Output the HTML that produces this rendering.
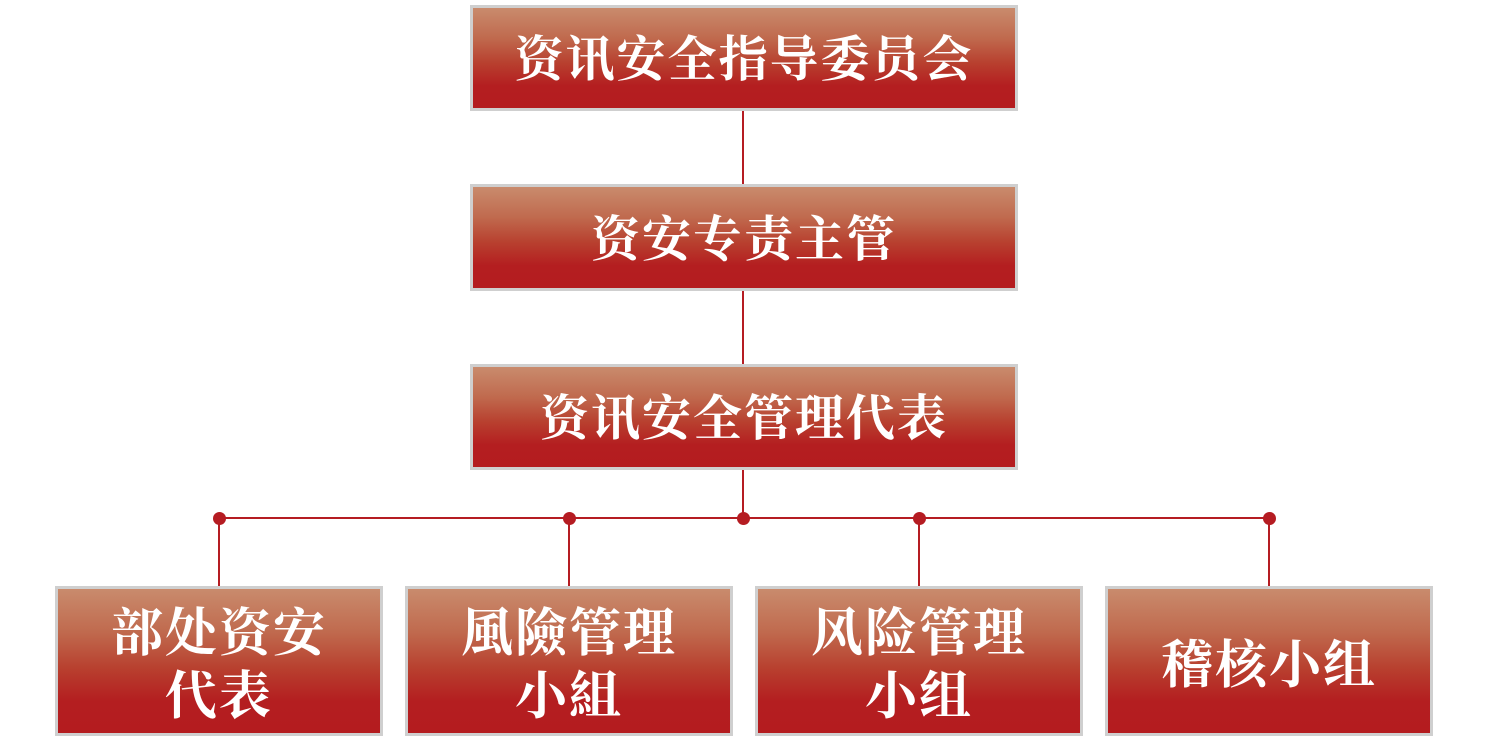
<!DOCTYPE html>
<html><head><meta charset="utf-8"><style>
body{margin:0;width:1487px;height:753px;background:#fff;position:relative;overflow:hidden;font-family:"Liberation Serif","Noto Serif CJK SC",serif;}
.b{position:absolute;box-sizing:border-box;border:3px solid #cfcfcf;background:linear-gradient(#c98b6d 0%,#c06a4e 30%,#b8402f 55%,#b41e20 78%,#b41c1f 100%);color:#fff;font-weight:bold;display:flex;align-items:center;justify-content:center;text-align:center;font-size:49px;letter-spacing:2px;padding-bottom:4px;}
.s{font-size:52px;line-height:63px;padding-top:10px;padding-bottom:0;}
.l{position:absolute;background:#b51c22;}
.d{position:absolute;width:13px;height:13px;border-radius:50%;background:#b51c22;}
</style></head><body>
<div class="l" style="left:742px;top:110px;width:2px;height:75px"></div>
<div class="l" style="left:742px;top:290px;width:2px;height:75px"></div>
<div class="l" style="left:742px;top:469px;width:2px;height:50px"></div>
<div class="l" style="left:219px;top:517px;width:1051px;height:2px"></div>
<div class="l" style="left:218px;top:518px;width:2px;height:69px"></div>
<div class="l" style="left:568px;top:518px;width:2px;height:69px"></div>
<div class="l" style="left:918px;top:518px;width:2px;height:69px"></div>
<div class="l" style="left:1268px;top:518px;width:2px;height:69px"></div>
<div class="d" style="left:213px;top:512px"></div>
<div class="d" style="left:563px;top:512px"></div>
<div class="d" style="left:737px;top:512px"></div>
<div class="d" style="left:913px;top:512px"></div>
<div class="d" style="left:1263px;top:512px"></div>
<div class="b" style="left:470px;top:5px;width:548px;height:106px">资讯安全指导委员会</div>
<div class="b" style="left:470px;top:184px;width:548px;height:107px">资安专责主管</div>
<div class="b" style="left:470px;top:364px;width:548px;height:106px">资讯安全管理代表</div>
<div class="b s" style="left:55px;top:586px;width:328px;height:150px">部处资安<br>代表</div>
<div class="b s" style="left:405px;top:586px;width:328px;height:150px">風險管理<br>小組</div>
<div class="b s" style="left:755px;top:586px;width:328px;height:150px">风险管理<br>小组</div>
<div class="b s" style="left:1105px;top:586px;width:328px;height:150px">稽核小组</div>
</body></html>
